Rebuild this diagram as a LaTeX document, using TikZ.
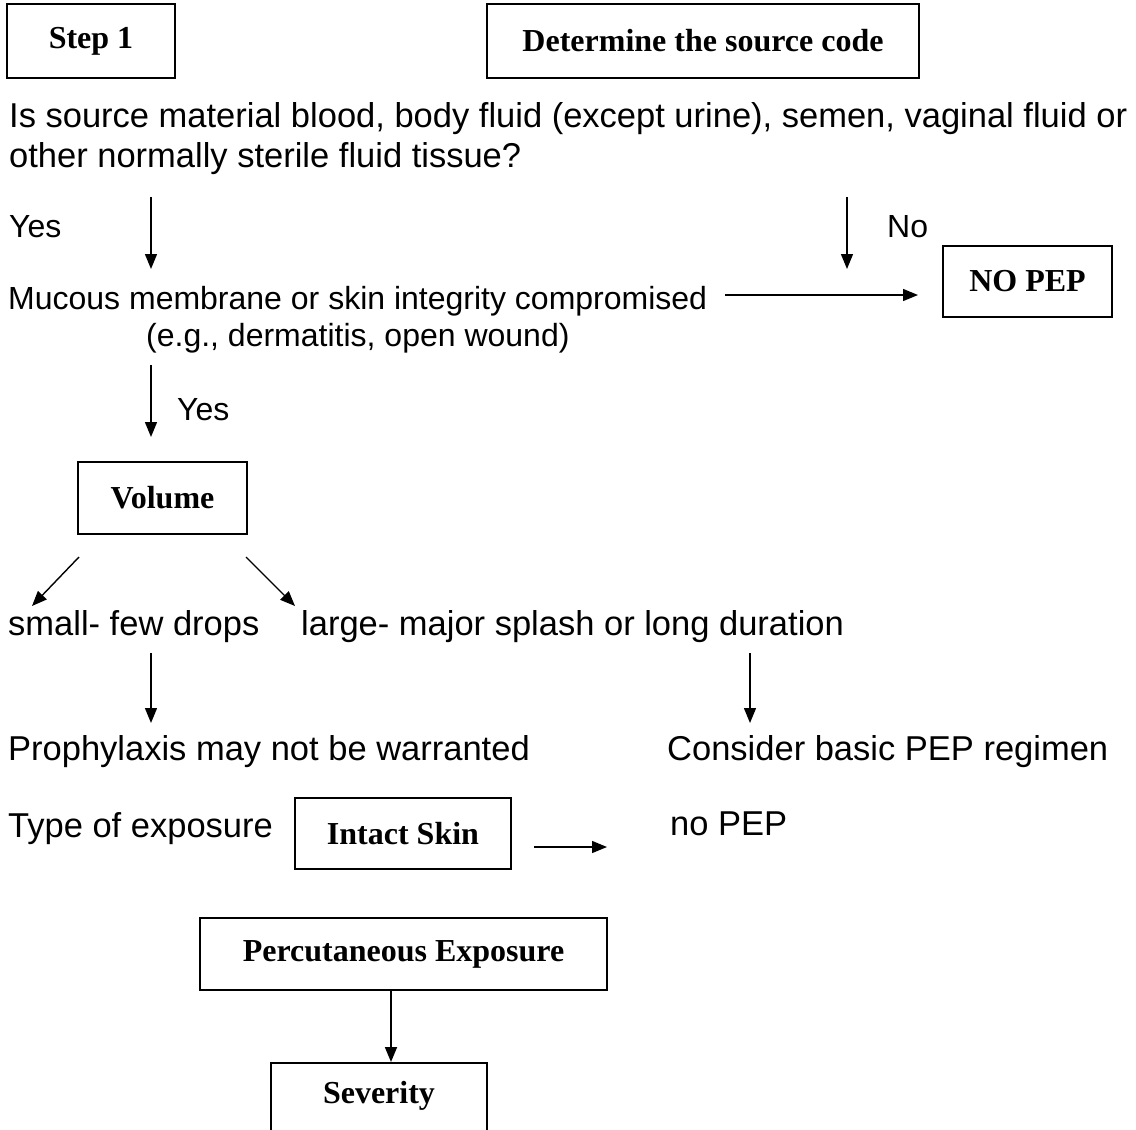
\documentclass[tikz,border=0pt]{standalone}
\usepackage{fontspec}
\setmainfont{Liberation Serif}
\setsansfont{Liberation Sans}
\usepackage{xcolor}
\usetikzlibrary{arrows.meta,positioning}

\tikzset{
  boite/.style={draw,line width=2pt,inner sep=0pt,
    font=\fontsize{32}{38}\selectfont\bfseries},
  texte/.style={anchor=base west,inner sep=0pt,
    font=\sffamily\fontsize{34.5}{40}\selectfont},
  petit/.style={texte,font=\sffamily\fontsize{32}{37}\selectfont},
  fleche/.style={-{Triangle[length=15pt,width=12pt]},line width=1.4pt},
}

\begin{document}
\begin{tikzpicture}[x=1pt,y=-1pt]
      \useasboundingbox (0,0) rectangle (1136,1130);
      \clip (0,0) rectangle (1136,1130);
      % en-tete
      \node[boite,minimum width=168pt,minimum height=74pt] (step) at (91,41) {Step 1};
      \node[boite,minimum width=432pt,minimum height=74pt] (source) at (703,41) {Determine the source code};
      \node[texte] (q1) at (9,127) {Is source material blood, body fluid (except urine), semen, vaginal fluid or};
      \node[texte] (q2) at (9,167) {other normally sterile fluid tissue?};
      % oui / non
      \coordinate (oui-a) at (151,197);
      \coordinate (oui-b) at (151,269);
      \coordinate (non-a) at (847,197);
      \coordinate (non-b) at (847,269);
      \draw[fleche](oui-a)--(oui-b);
      \draw[fleche](non-a)--(non-b);
      \node[petit] (yes1) at (9,237) {Yes};
      \node[petit] (no1) at (887,237) {No};
      \node[boite,minimum width=169pt,minimum height=71pt] (nopep) at (1027.5,281.5) {NO PEP};
      \node[petit] (mucous) at (8,309) {Mucous membrane or skin integrity compromised};
      \node[petit] (eg) at (146,346) {(e.g., dermatitis, open wound)};
      \coordinate (m-a) at (725,295);
      \coordinate (m-b) at (918,295);
      \draw[fleche](m-a)--(m-b);
      % volume
      \coordinate (oui2-a) at (151,365);
      \coordinate (oui2-b) at (151,437);
      \draw[fleche](oui2-a)--(oui2-b);
      \node[petit] (yes2) at (177,420) {Yes};
      \node[boite,minimum width=169pt,minimum height=72pt] (volume) at (162.5,498) {Volume};
      \coordinate (v1-a) at (79,557);
      \coordinate (v1-b) at (32,606);
      \coordinate (v2-a) at (246,557);
      \coordinate (v2-b) at (295,606);
      \draw[fleche](v1-a)--(v1-b);
      \draw[fleche](v2-a)--(v2-b);
      \node[texte] (small) at (8,635) {small- few drops};
      \node[texte] (large) at (301,635) {large- major splash or long duration};
      \coordinate (s-a) at (151,653);
      \coordinate (s-b) at (151,723);
      \coordinate (l-a) at (750,653);
      \coordinate (l-b) at (750,723);
      \draw[fleche](s-a)--(s-b);
      \draw[fleche](l-a)--(l-b);
      \node[texte] (prophy) at (8,760) {Prophylaxis may not be warranted};
      \node[texte] (basic) at (667,760) {Consider basic PEP regimen};
      % type d'exposition
      \node[texte] (type) at (8,837) {Type of exposure};
      \node[boite,minimum width=216pt,minimum height=71pt] (intact) at (403,833.5) {Intact Skin};
      \coordinate (i-a) at (534,847);
      \coordinate (i-b) at (607,847);
      \draw[fleche](i-a)--(i-b);
      \node[texte] (nopep2) at (670,835) {no PEP};
      % percutanee
      \node[boite,minimum width=407pt,minimum height=72pt] (percut) at (403.5,954) {Percutaneous Exposure};
      \node[boite,anchor=north,minimum width=216pt,inner ysep=18pt,text depth=60pt] (severity) at (379,1062) {Severity};
      \coordinate (axe) at (391,0);
      \draw[fleche,line width=1.8pt](percut.south -| axe)--(severity.north -| axe);
    \end{tikzpicture}
\end{document}
